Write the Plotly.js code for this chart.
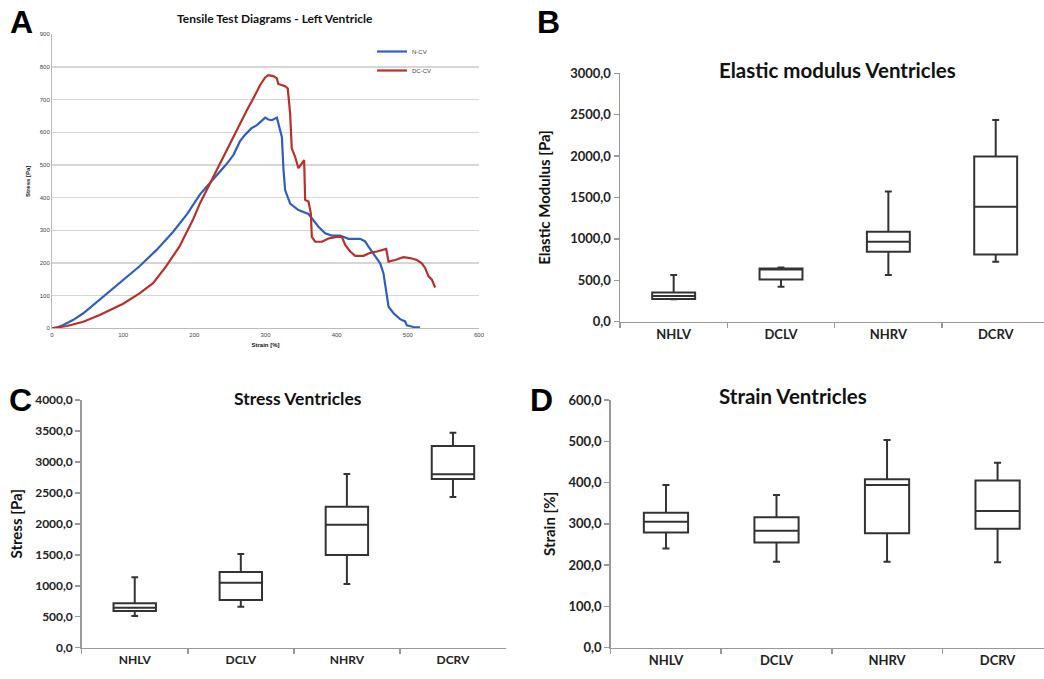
<!DOCTYPE html>
<html><head><meta charset="utf-8">
<script src="https://cdn.plot.ly/plotly-3.0.1.min.js"></script>
<style>html,body{margin:0;padding:0;background:#fff}#chart{width:1044px;height:679px}</style>
</head><body><div id="chart"></div>
<script>
// ---- Panel A: tensile test curves ----
const ncvStrain = [0,8,16,30,44,58,72,86,100,123,147,170,190,208,220,232,245,255,264,271,280,288,299.5,304,309,316,319.6,323,325.3,327.6,334.6,346.3,360.4,365.1,374.4,383.8,393.2,404.9,416.6,433,440,444.7,454.1,461.1,465.8,469.1,472.9,479.9,489.2,496.2,498.6,507.9,517.2];
const ncvStress = [0,3,10,26,46,72,97,122,148,190,240,295,350,410,440,469,502,531,572,592,612,622,645,639,637,645,611,586,485,423,382,362,350,336,311,291,284,284,274,274,266,250,220,199,168,117,66,46,28,21,9,4,3];
const dccvStrain = [0,21,44,67,100,123,142,160,179,198,208,220,232,244,255,264,274,283,292.5,299.5,304,311,316,318,323,327.6,331.3,334.6,336.9,341.6,346.3,351,354.3,355.7,360.4,363.7,365.1,369.8,379.2,388.5,400.2,407.3,412,419,426,437.7,447.1,456.5,465.9,469.6,472.9,482.2,493.9,503.3,512.6,519.7,524.4,529.1,533.8,538.4];
const dccvStress = [0,7,20,41,75,107,138,189,250,332,383,435,485,537,587,627,668,704,745,768,775,772,765,748,745,741,734,658,551,525,490,505,515,393,388,352,280,265,265,275,280,280,255,235,222,222,231,235,241,243,204,209,218,215,209,199,184,159,149,125];
const seriesNames = ["N-CV","DC-CV"];

// ---- Box panels ----
const groups = ["NHLV","DCLV","NHRV","DCRV"];
// Elastic modulus [Pa]
const emMin = [270,423,564,725];
const emQ1  = [274,511,846,813];
const emMed = [310,630,966,1389];
const emQ3  = [354,644,1087,1994];
const emMax = [564,655,1571,2437];
// Stress [Pa]
const stMin = [511,662,1028,2433];
const stQ1  = [592,770,1497,2724];
const stMed = [646,1050,1987,2800];
const stQ3  = [716,1222,2277,3257];
const stMax = [1136,1513,2805,3472];
// Strain [%]
const snMin = [240,208,208,207];
const snQ1  = [279,255,277,288];
const snMed = [305,283,394,331];
const snQ3  = [327,316,408,405];
const snMax = [394,370,503,448];

const W = 1044, H = 679;
const px = x => x / W;
const py = y => 1 - y / H;

const boxStyle = {
  type: 'box', showlegend: false, boxpoints: false,
  line: {color: '#333333', width: 2}, fillcolor: 'rgba(255,255,255,0)',
  width: 0.4, whiskerwidth: 0.16, hoverinfo: 'skip'
};
function boxTrace(q1, med, q3, lo, hi, xa, ya) {
  return Object.assign({}, boxStyle, {
    x: groups, q1: q1, median: med, q3: q3, lowerfence: lo, upperfence: hi,
    xaxis: xa, yaxis: ya
  });
}

const data = [
  {type:'scatter', mode:'lines', name: seriesNames[0], x: ncvStrain, y: ncvStress,
   line:{color:'#2f5fbd', width:2.2}, xaxis:'x', yaxis:'y'},
  {type:'scatter', mode:'lines', name: seriesNames[1], x: dccvStrain, y: dccvStress,
   line:{color:'#b8302b', width:2.2}, xaxis:'x', yaxis:'y'},
  boxTrace(emQ1, emMed, emQ3, emMin, emMax, 'x2', 'y2'),
  boxTrace(stQ1, stMed, stQ3, stMin, stMax, 'x3', 'y3'),
  boxTrace(snQ1, snMed, snQ3, snMin, snMax, 'x4', 'y4')
];

const FAM = 'Lato, "Open Sans", sans-serif';
const tf = s => ({family: FAM, size: s, color: '#222', weight: 'bold'});
const titleFont = {family: FAM, size: 15, color: '#111', weight: 'bold'};
const smallFont = {family: '"Liberation Sans", Arial, sans-serif', size: 6, color: '#444'};

function catAxis(dom, anchor, rmax, fs) {
  return {domain: dom, anchor: anchor, type:'category', range:[-0.5, rmax],
    showline:true, linecolor:'#999', linewidth:1.5, showgrid:false, zeroline:false,
    ticks:'outside', ticklen:5, tickcolor:'#999', tickwidth:1.5, tickson:'boundaries',
    tickfont: tf(fs), fixedrange:true};
}
function valAxis(dom, anchor, rmax, dtick, title, standoff, fs) {
  return {domain: dom, anchor: anchor, range:[0, rmax], dtick: dtick, tickformat:'.1f',
    showline:true, linecolor:'#999', linewidth:1.5, showgrid:false, zeroline:false,
    ticks:'outside', ticklen:5, tickcolor:'#999', tickwidth:1.5,
    tickfont: tf(fs), title:{text: title, font: titleFont, standoff: standoff}, fixedrange:true};
}

const layout = {
  width: W, height: H, margin:{l:0,r:0,t:0,b:0}, paper_bgcolor:'#fff', plot_bgcolor:'#fff',
  separators: ',.',
  showlegend: true,
  legend: {x: px(372), y: py(37), xanchor:'left', yanchor:'top', font: smallFont,
    bgcolor:'rgba(0,0,0,0)', itemwidth:30, tracegroupgap:2},
  xaxis: {domain:[px(52), px(479)], anchor:'y', range:[0,600], dtick:100,
    showline:true, linecolor:'#bbb', linewidth:1, showgrid:false, zeroline:false,
    ticks:'', tickfont: smallFont,
    title:{text:'Strain [%]', font:{family:'"Liberation Sans", Arial, sans-serif', size:6, color:'#111', weight:700}, standoff:6}},
  yaxis: {domain:[py(328.3), py(34.3)], anchor:'x', range:[0,900], dtick:100,
    showline:true, linecolor:'#bbb', linewidth:1, showgrid:true, gridcolor:'#d6d6d6', gridwidth:1.3,
    zeroline:false, ticks:'', tickfont: smallFont,
    title:{text:'Stress [Pa]', font:{family:'"Liberation Sans", Arial, sans-serif', size:6, color:'#111', weight:700}, standoff:8}},
  xaxis2: catAxis([px(620), 1], 'y2', 3.45, 13),
  yaxis2: valAxis([py(321.7), py(73.3)], 'x2', 3000, 500, 'Elastic Modulus [Pa]', 16, 13),
  xaxis3: catAxis([px(81.7), px(506)], 'y3', 3.5, 12),
  yaxis3: valAxis([py(647.7), py(400)], 'x3', 4000, 500, 'Stress [Pa]', 9, 12),
  xaxis4: catAxis([px(610.7), 1], 'y4', 3.42, 13),
  yaxis4: valAxis([py(647.7), py(400)], 'x4', 600, 100, 'Strain [%]', 9, 13),
  annotations: [
    {text:'<b>Tensile Test Diagrams - Left Ventricle</b>', x:px(275), y:py(18), xref:'paper', yref:'paper',
     showarrow:false, xanchor:'center', yanchor:'middle', font:{family:FAM, size:12, color:'#111'}},
    {text:'<b>Elastic modulus Ventricles</b>', x:px(837), y:py(70), xref:'paper', yref:'paper',
     showarrow:false, xanchor:'center', yanchor:'middle', font:{family:FAM, size:20.5, color:'#111'}},
    {text:'<b>Stress Ventricles</b>', x:px(298), y:py(398), xref:'paper', yref:'paper',
     showarrow:false, xanchor:'center', yanchor:'middle', font:{family:FAM, size:17.5, color:'#111'}},
    {text:'<b>Strain Ventricles</b>', x:px(793), y:py(396), xref:'paper', yref:'paper',
     showarrow:false, xanchor:'center', yanchor:'middle', font:{family:FAM, size:20.5, color:'#111'}},
    {text:'<b>A</b>', x:px(21), y:py(22), xref:'paper', yref:'paper', showarrow:false, xanchor:'center', yanchor:'middle',
     font:{family:'"Liberation Sans", Arial, sans-serif', size:32, color:'#000'}},
    {text:'<b>B</b>', x:px(548), y:py(22), xref:'paper', yref:'paper', showarrow:false, xanchor:'center', yanchor:'middle',
     font:{family:'"Liberation Sans", Arial, sans-serif', size:32, color:'#000'}},
    {text:'<b>C</b>', x:px(20), y:py(400), xref:'paper', yref:'paper', showarrow:false, xanchor:'center', yanchor:'middle',
     font:{family:'"Liberation Sans", Arial, sans-serif', size:32, color:'#000'}},
    {text:'<b>D</b>', x:px(541), y:py(400), xref:'paper', yref:'paper', showarrow:false, xanchor:'center', yanchor:'middle',
     font:{family:'"Liberation Sans", Arial, sans-serif', size:32, color:'#000'}}
  ]
};

Plotly.newPlot('chart', data, layout, {staticPlot:true, displayModeBar:false});
</script>
</body></html>
